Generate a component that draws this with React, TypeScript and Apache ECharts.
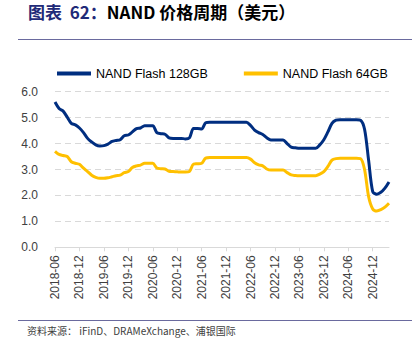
import React, { useEffect, useRef } from "react";
import * as echarts from "echarts";

const startYear = 2018;
const startMonth = 6;
const monthCount = 83;

const months: string[] = [];
for (let i = 0; i < monthCount; i++) {
  const m = startMonth - 1 + i;
  const y = startYear + Math.floor(m / 12);
  const mm = (m % 12) + 1;
  months.push(`${y}-${mm < 10 ? "0" + mm : mm}`);
}

const nand128: number[] = [
  5.6, 5.35, 5.25, 5.02, 4.78, 4.72, 4.6, 4.42, 4.2, 4.06,
  3.95, 3.91, 3.92, 3.98, 4.08, 4.12, 4.15, 4.3, 4.33, 4.45,
  4.58, 4.6, 4.69, 4.69, 4.69, 4.42, 4.38, 4.36, 4.22, 4.2,
  4.2, 4.2, 4.18, 4.22, 4.58, 4.58, 4.56, 4.8, 4.82, 4.82,
  4.82, 4.82, 4.82, 4.82, 4.82, 4.82, 4.82, 4.82, 4.7, 4.52,
  4.42, 4.35, 4.22, 4.14, 4.14, 4.14, 4.14, 4.0, 3.86, 3.84,
  3.82, 3.82, 3.82, 3.82, 3.82, 3.95, 4.15, 4.45, 4.78, 4.9,
  4.92, 4.92, 4.92, 4.92, 4.92, 4.9, 4.55, 3.35, 2.15, 2.05,
  2.12, 2.28, 2.52,
];

const nand64: number[] = [
  3.7, 3.58, 3.54, 3.5, 3.3, 3.24, 3.2, 3.05, 2.92, 2.78,
  2.7, 2.66, 2.66, 2.68, 2.72, 2.76, 2.78, 2.88, 2.92, 3.08,
  3.14, 3.17, 3.24, 3.24, 3.24, 3.06, 3.03, 3.02, 2.93, 2.92,
  2.91, 2.9, 2.9, 2.92, 3.21, 3.22, 3.24, 3.44, 3.46, 3.46,
  3.46, 3.46, 3.46, 3.46, 3.46, 3.46, 3.46, 3.46, 3.4, 3.26,
  3.18, 3.14, 3.02, 2.98, 2.98, 2.98, 2.98, 2.88, 2.79, 2.77,
  2.76, 2.76, 2.76, 2.76, 2.76, 2.82, 2.92, 3.12, 3.36, 3.42,
  3.43, 3.43, 3.43, 3.43, 3.43, 3.42, 3.0, 1.95, 1.48, 1.4,
  1.45, 1.55, 1.7,
];

const seriesNames: string[] = ["NAND Flash 128GB", "NAND Flash 64GB"];
const colors: string[] = ["#002E80", "#FFC000"];

export default function App() {
  const ref = useRef<HTMLDivElement>(null);
  useEffect(() => {
    if (!ref.current) return;
    const chart = echarts.init(ref.current, undefined, { renderer: "svg" });
    const axisFont = "Liberation Sans, Arial, sans-serif";
    chart.setOption({
      animation: false,
      backgroundColor: "#FFFFFF",
      graphic: [
        {
          type: "text",
          left: 28,
          top: 3,
          style: {
            text: "{a|图表  62：}{b|NAND 价格周期（美元）}",
            rich: {
              a: { fontSize: 17, lineHeight: 20, fontWeight: "bold", fill: "#1F2A78", fontFamily: "Noto Sans CJK SC" },
              b: { fontSize: 17, lineHeight: 20, fontWeight: "bold", fill: "#000000", fontFamily: "Noto Sans CJK SC" },
            },
          },
        },
        {
          type: "line",
          shape: { x1: 18, y1: 39.5, x2: 412, y2: 39.5 },
          style: { stroke: "#6A6A9E", lineWidth: 1 },
        },
        {
          type: "line",
          shape: { x1: 18, y1: 320.5, x2: 412, y2: 320.5 },
          style: { stroke: "#6A6A9E", lineWidth: 1 },
        },
        {
          type: "text",
          left: 27,
          top: 325,
          style: {
            text: "资料来源： iFinD、DRAMeXchange、浦银国际",
            fontSize: 10,
            fill: "#404040",
            fontFamily: "Noto Sans CJK SC",
          },
        },
      ],
      legend: {
        left: 57,
        top: 67,
        padding: 0,
        itemWidth: 34,
        itemHeight: 4,
        itemGap: 36,
        icon: "rect",
        textStyle: { fontSize: 12.5, color: "#000000", fontFamily: axisFont },
        data: seriesNames,
      },
      grid: { left: 55, right: 28, top: 91.7, bottom: 107.7, containLabel: false },
      xAxis: {
        type: "category",
        data: months,
        boundaryGap: false,
        axisLine: { lineStyle: { color: "#D9D9D9", width: 1 } },
        axisTick: { show: true, interval: 5, length: 4, lineStyle: { color: "#D9D9D9" } },
        axisLabel: {
          interval: 5,
          rotate: 90,
          fontSize: 12,
          color: "#404040",
          fontFamily: axisFont,
          margin: 8,
        },
        splitLine: { show: false },
      },
      yAxis: {
        type: "value",
        min: 0,
        max: 6,
        interval: 1,
        axisLine: { show: false },
        axisTick: { show: false },
        axisLabel: {
          formatter: (v: number) => v.toFixed(1),
          fontSize: 12,
          color: "#404040",
          fontFamily: axisFont,
          margin: 17,
        },
        splitLine: { lineStyle: { color: "#D9D9D9", type: [6, 4], width: 1 } },
      },
      series: [
        {
          name: seriesNames[0],
          type: "line",
          data: nand128,
          symbol: "none",
          smooth: 0.3,
          lineStyle: { color: colors[0], width: 3 },
          itemStyle: { color: colors[0] },
        },
        {
          name: seriesNames[1],
          type: "line",
          data: nand64,
          symbol: "none",
          smooth: 0.3,
          lineStyle: { color: colors[1], width: 3 },
          itemStyle: { color: colors[1] },
        },
      ],
    });
    return () => chart.dispose();
  }, []);
  return <div ref={ref} style={{ width: 417, height: 355, position: "absolute", left: 0, top: 0 }} />;
}
